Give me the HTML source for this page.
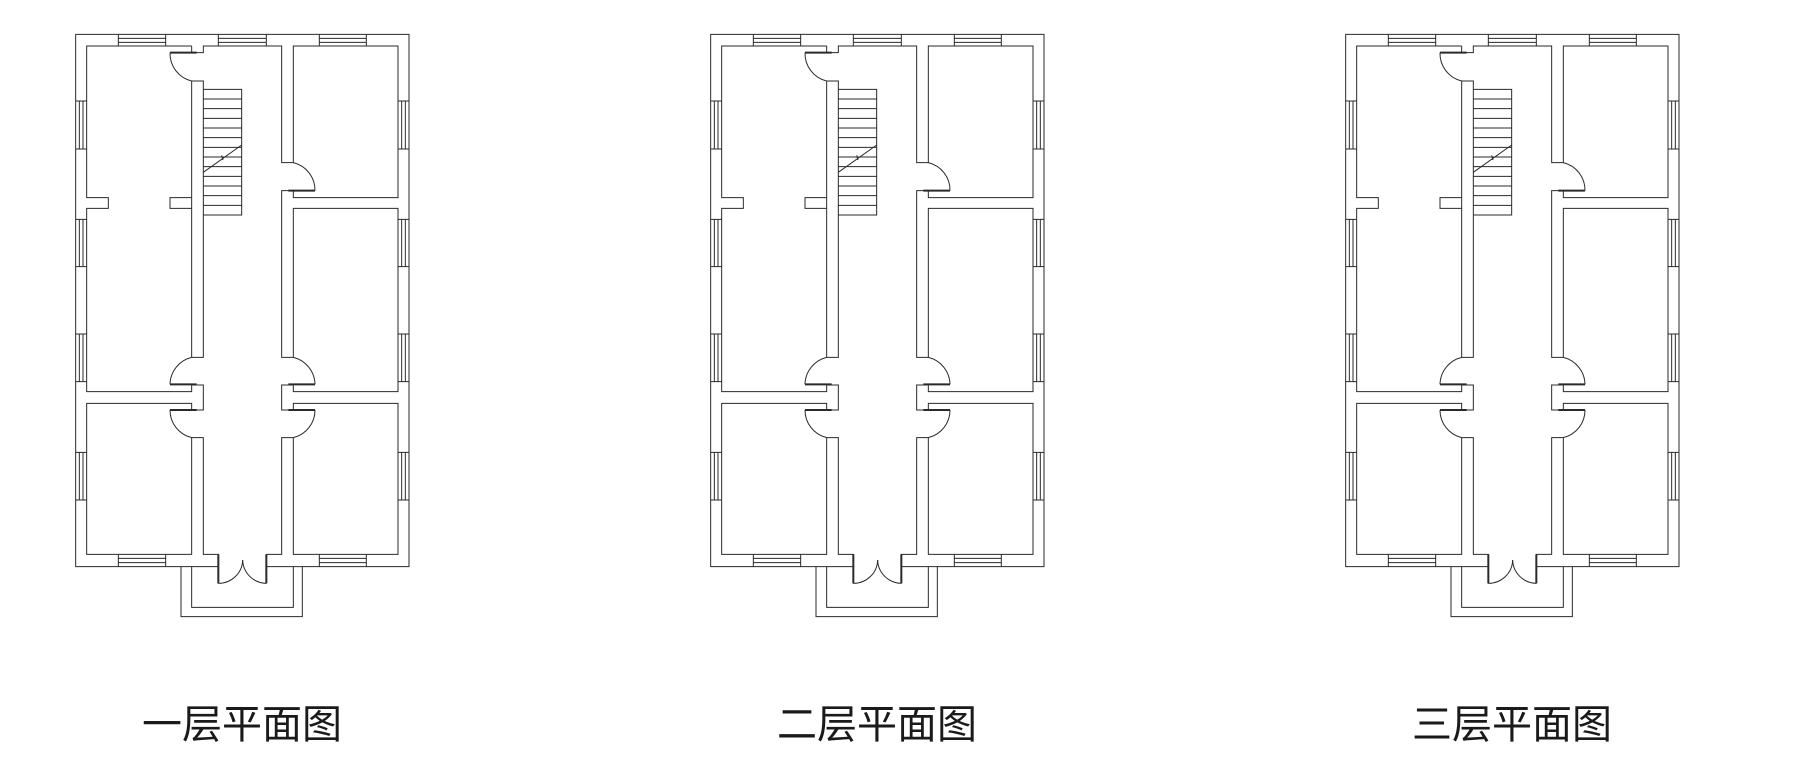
<!DOCTYPE html>
<html><head><meta charset="utf-8"><style>
html,body{margin:0;padding:0;background:#fff;}
svg{display:block;}
text{font-family:"Liberation Sans","Noto Sans CJK SC",sans-serif;}
</style></head><body>
<svg width="1796" height="776" viewBox="0 0 1796 776" xmlns="http://www.w3.org/2000/svg">
<defs>
<g id="plan" fill="none" stroke="#2a2a2a" stroke-width="3">
  <path d="M475,1640 H47 V43 H1047 V1640 H619"/>
  <path d="M395,78 V98 H430 V78 H665 V428 H700 V78 H1014 V533 H700 V512 H665 V1012 H700 V565 H1014 V1115 H700 V1095 H665 V1170 H700 V1150 H1014 V1603 H700 V1253 H665 V1603 H619 V1690"/>
  <path d="M395,78 H80 V533 H145 V565 H80 V1115 H395 V1095 H430 V1170 H395 V1150 H80 V1603 H395 V1253 H430 V1603 H475 V1690"/>
  <path d="M395,1012 V183 H430 V1012 H395"/>
  <path d="M395,533 H330 V565 H395"/>
  <path d="M363,1640 V1790 H727 V1640"/>
  <path d="M395,1640 V1762 H700 V1640"/>
  <g stroke-width="6">
    <path d="M330,98 H410 M685,512 H765 M330,1093 H410 M685,1093 H765 M330,1170 H410 M685,1170 H765 M475,1603 V1690 M619,1603 V1690"/>
  </g>
  <path d="M330,98 A85,85 0 0 0 395,183"/>
  <path d="M700,428 A85,85 0 0 1 765,512"/>
  <path d="M395,1012 A85,85 0 0 0 330,1093"/>
  <path d="M330,1170 A85,85 0 0 0 395,1253"/>
  <path d="M700,1012 A85,85 0 0 1 765,1093"/>
  <path d="M765,1170 A85,85 0 0 1 700,1253"/>
  <path d="M475,1690 A72,72 0 0 0 548,1620"/>
  <path d="M619,1690 A72,72 0 0 1 548,1620"/>
  <path d="M175,43 V78 M317,43 V78 M175,55 H317 M175,67 H317
           M475,43 V78 M619,43 V78 M475,55 H619 M475,67 H619
           M778,43 V78 M919,43 V78 M778,55 H919 M778,67 H919"/>
  <path d="M175,1603 V1640 M317,1603 V1640 M175,1615 H317 M175,1628 H317
           M778,1603 V1640 M919,1603 V1640 M778,1615 H919 M778,1628 H919"/>
  <path d="M47,243 H80 M47,387 H80 M58,243 V387 M69,243 V387
           M47,598 H80 M47,740 H80 M58,598 V740 M69,598 V740
           M47,942 H80 M47,1085 H80 M58,942 V1085 M69,942 V1085
           M47,1297 H80 M47,1440 H80 M58,1297 V1440 M69,1297 V1440"/>
  <path d="M1014,243 H1047 M1014,387 H1047 M1025,243 V387 M1036,243 V387
           M1014,598 H1047 M1014,740 H1047 M1025,598 V740 M1036,598 V740
           M1014,942 H1047 M1014,1085 H1047 M1025,942 V1085 M1036,942 V1085
           M1014,1297 H1047 M1014,1440 H1047 M1025,1297 V1440 M1036,1297 V1440"/>
  <path d="M430,208 H545 V585 H430"/>
  <path d="M430,237 H545 M430,266 H545 M430,295 H545 M430,324 H545 M430,353 H545 M430,382 H545 M430,411 H545 M430,440 H545 M430,469 H545 M430,498 H545 M430,527 H545 M430,556 H545"/>
  <path d="M430,457 L545,375 M485,406 L489,420"/>
</g>
</defs>
<g transform="translate(60,20) scale(0.33333)"><use href="#plan"/></g>
<g transform="translate(695,20) scale(0.33333)"><use href="#plan"/></g>
<g transform="translate(1330,20) scale(0.33333)"><use href="#plan"/></g>
<g fill="#1a1a1a" font-size="40" text-anchor="middle">
  <text x="242" y="738">一层平面图</text>
  <text x="877" y="738">二层平面图</text>
  <text x="1512" y="738">三层平面图</text>
</g>
</svg>
</body></html>
